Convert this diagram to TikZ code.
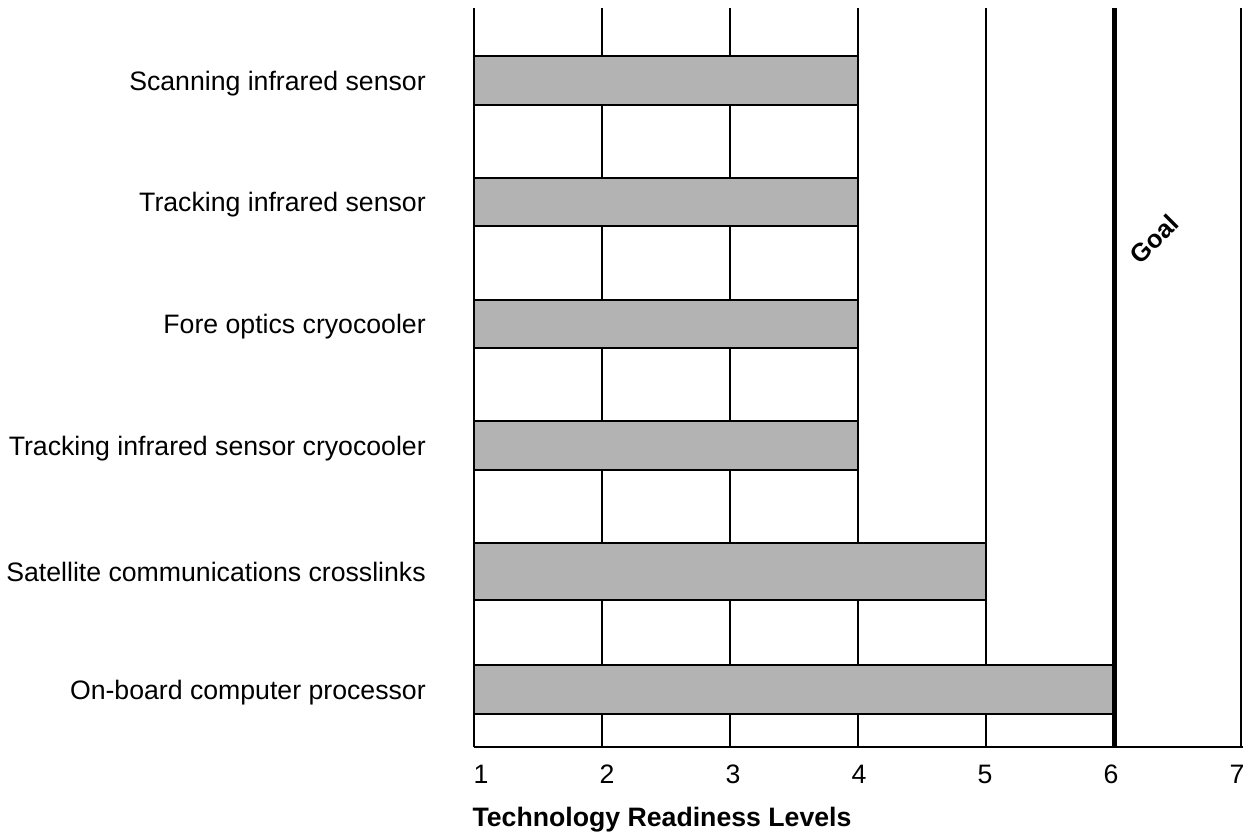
\documentclass[tikz,border=0pt]{standalone}
\usepackage{fontspec}
\setmainfont{Liberation Sans}
\definecolor{barfill}{RGB}{179,179,179}
\begin{document}
\begin{tikzpicture}[x=0.75pt,y=-0.75pt,
  gridline/.style={line width=1.4pt},
  barbox/.style={draw, line width=1.5pt, fill=barfill},
  goalline/.style={line width=4.1pt},
  lab/.style={anchor=base east, font=\fontsize{20}{24}\selectfont, inner sep=0pt},
  ticklab/.style={anchor=base, font=\fontsize{20}{24}\selectfont, inner sep=0pt},
  titlelab/.style={anchor=base, font=\fontsize{20}{24}\selectfont\bfseries, inner sep=0pt}]
\useasboundingbox (0,0) rectangle (1247,835);
% grid lines
\foreach \i in {0,...,6} {
  \draw[gridline] ({474+127.9*\i},8) -- ({474+127.9*\i},747);
}
% axis
\draw[gridline] (474,747) -- (1243,747);
% bars
\foreach \k/\v/\h in {0/4/48.5,1/4/48.5,2/4/48.5,3/4/48.5,4/5/57,5/6/48.5} {
  \draw[barbox] (474,{56+121.8*\k}) rectangle ({474+127.9*(\v-1)},{56+121.8*\k+\h});
}
% goal line
\draw[goalline] (1114.5,8) -- (1114.5,747);
\node[rotate=45, font=\fontsize{19}{22}\selectfont\bfseries, inner sep=0pt] (goal) at (1154,239) {Goal};
% labels
\node[lab] (l1) at (426,{80.5+9.5}) {Scanning infrared sensor};
\node[lab] (l2) at (426,{202.3+9.5}) {Tracking infrared sensor};
\node[lab] (l3) at (426,{324.1+9.5}) {Fore optics cryocooler};
\node[lab] (l4) at (426,{445.9+9.5}) {Tracking infrared sensor cryocooler};
\node[lab] (l5) at (426,{571.7+9.5}) {Satellite communications crosslinks};
\node[lab] (l6) at (426,{689.5+9.5}) {On-board computer processor};
% tick labels
\foreach \i in {1,...,7} {
  \node[ticklab] (t\i) at ({481+126*(\i-1)},783) {\i};
}
\node[titlelab] (title) at (662,826) {Technology Readiness Levels};
\end{tikzpicture}
\end{document}
